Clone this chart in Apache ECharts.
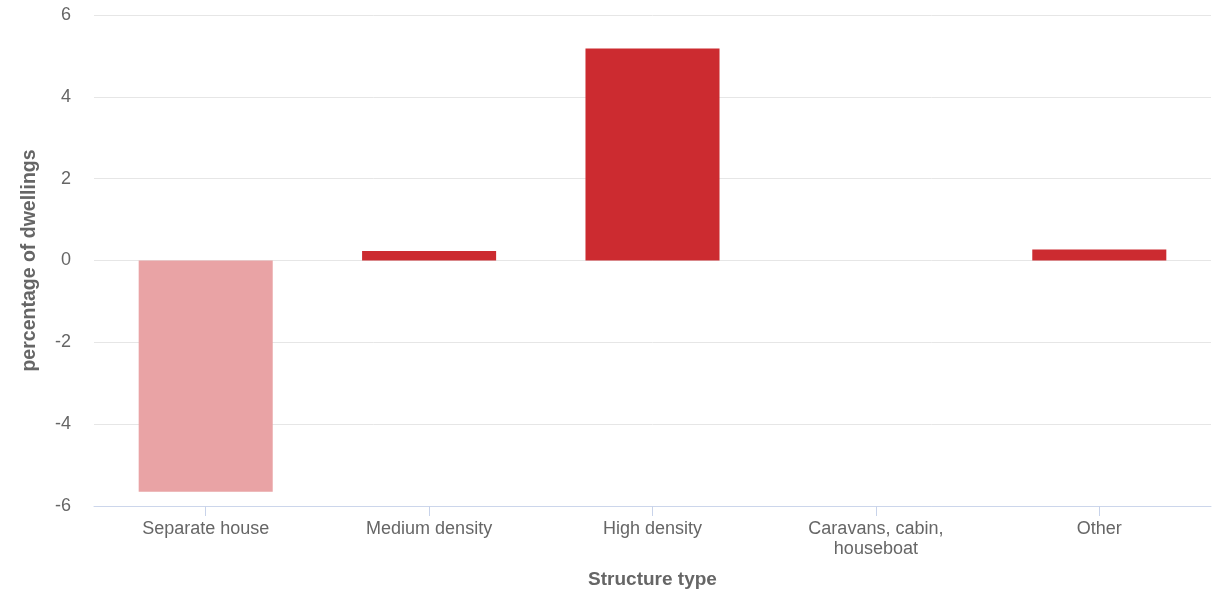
<!DOCTYPE html>
<html>
<head>
<meta charset="utf-8">
<script src="https://cdn.jsdelivr.net/npm/echarts@6/dist/echarts.min.js"></script>
<style>html,body{margin:0;padding:0;background:#fff}#c{width:1223px;height:591px}</style>
</head>
<body>
<div id="c"></div>
<script>
const categories = ["Separate house", "Medium density", "High density", "Caravans, cabin,\nhouseboat", "Other"];
const values = [-5.65, 0.23, 5.18, 0, 0.27];
const barColors = ["#e9a3a5", "#cc2b30", "#cc2b30", "#cc2b30", "#cc2b30"];
const yTicks = { min: -6, max: 6, interval: 2 };

const font = 'Liberation Sans, Arial, sans-serif';
const chart = echarts.init(document.getElementById('c'), null, { renderer: 'canvas' });
chart.setOption({
  animation: false,
  grid: { left: 94, right: 12, top: 15, bottom: 85, containLabel: false, outerBoundsMode: 'none' },
  xAxis: {
    type: 'category',
    data: categories,
    name: 'Structure type',
    nameLocation: 'middle',
    nameGap: 64,
    nameTextStyle: { color: '#666', fontSize: 19, fontWeight: 'bold', fontFamily: font },
    position: 'bottom',
    axisLine: { onZero: false, lineStyle: { color: '#ccd6eb' } },
    axisTick: { show: true, alignWithLabel: true, length: 10, lineStyle: { color: '#c8d3ea', width: 1 } },
    axisLabel: { color: '#666', fontSize: 18, margin: 13, lineHeight: 20, fontFamily: font }
  },
  yAxis: {
    type: 'value',
    min: yTicks.min, max: yTicks.max, interval: yTicks.interval,
    name: 'percentage of dwellings',
    nameLocation: 'middle',
    nameGap: 54,
    nameTextStyle: { color: '#666', fontSize: 19.5, fontWeight: 'bold', fontFamily: font },
    axisLine: { show: false },
    axisTick: { show: false },
    axisLabel: { color: '#666', fontSize: 18, margin: 23, fontFamily: font },
    splitLine: { lineStyle: { color: '#e6e6e6' } }
  },
  series: [{
    type: 'bar',
    barWidth: '60%',
    data: values.map((v, i) => ({ value: v, itemStyle: { color: barColors[i] } }))
  }]
});
</script>
</body>
</html>
